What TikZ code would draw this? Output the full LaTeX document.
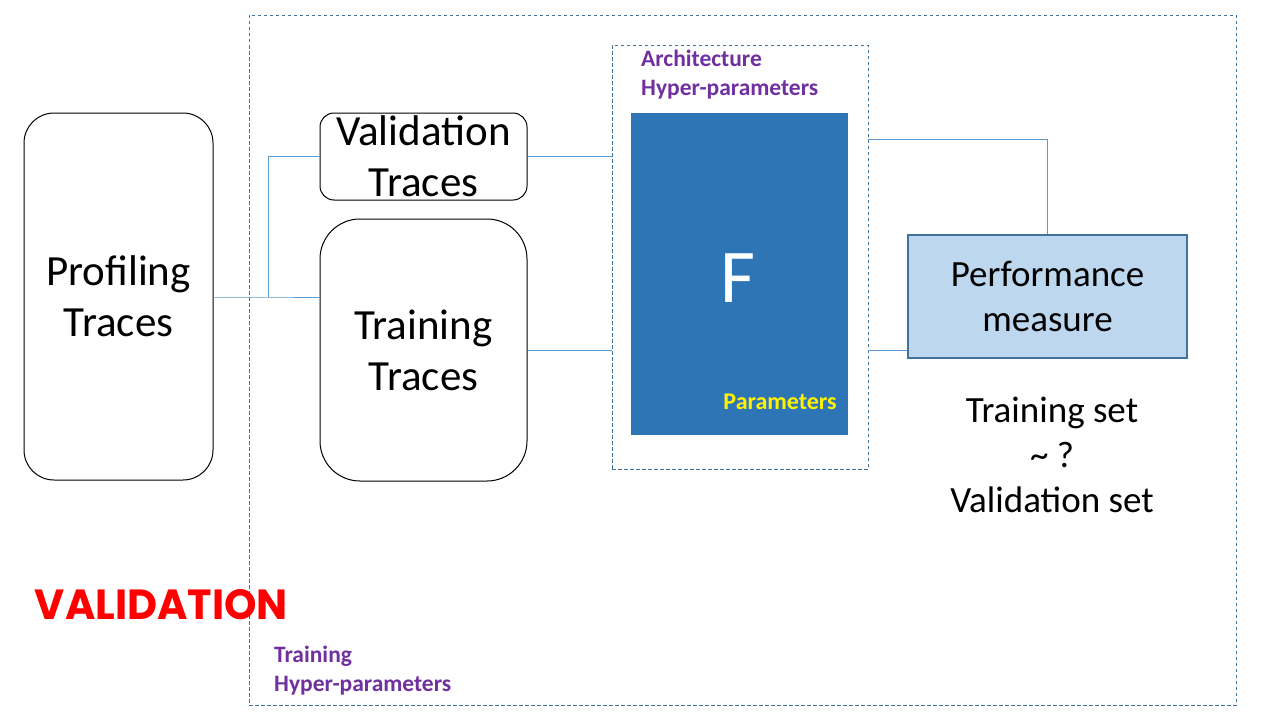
\documentclass[tikz,border=0pt]{standalone}
\usepackage{fontspec}
\setmainfont{Carlito}
\newfontfamily\vfont{Poppins}
\usetikzlibrary{calc}
\definecolor{dashc}{HTML}{41719C}
\definecolor{linec}{HTML}{5B9BD5}
\definecolor{fblue}{HTML}{2E75B6}
\definecolor{pfill}{HTML}{BDD7EE}
\definecolor{purp}{HTML}{7030A0}
\tikzset{
  tracebox/.style={draw=black, line width=1pt, align=center, inner sep=0pt,
    font=\fontsize{43}{51}\selectfont},
  dashbox/.style={draw=dashc, line width=0.9pt, dash pattern=on 3.5pt off 2.5pt, inner sep=0pt},
  conn/.style={draw=linec, line width=1pt},
  purplab/.style={text=purp, font=\fontsize{23.5}{29}\selectfont\bfseries, align=left, inner sep=0pt},
}
\begin{document}
\begin{tikzpicture}[x=1pt,y=-1pt]
\useasboundingbox[fill=white] (0,0) rectangle (1280,720);
% outer dashed frame
\node[dashbox, minimum width=987pt, minimum height=690pt] (outer) at (742.5,360) {};
% trace boxes
\node[tracebox, rounded corners=30pt, minimum width=189pt, minimum height=367pt] (prof) at (118.5,296.5) {Profiling\\Traces};
\node[tracebox, rounded corners=14pt, minimum width=207pt, minimum height=87pt] (val) at (423.5,156.5) {Validation\\Traces};
\node[tracebox, rounded corners=40pt, minimum width=207pt, minimum height=262pt] (train) at (423.5,350) {Training\\Traces};
% inner dashed frame with F
\node[dashbox, minimum width=256pt, minimum height=424pt] (arch) at (740,257) {};
\node[fill=fblue, minimum width=217pt, minimum height=322pt, inner sep=0pt] (F) at (739.5,274) {};
\node[text=white, font=\fontsize{76}{80}\selectfont, inner sep=0pt] (Fl) at (738,278) {F};
\node[purplab, anchor=west] (archlab) at (641,75) {Architecture\\Hyper-parameters};
\node[text=yellow, font=\fontsize{24}{26}\selectfont\bfseries, inner sep=0pt, anchor=east] (plab) at (837,402) {Parameters};
% performance
\node[draw=dashc, line width=1.2pt, fill=pfill, minimum width=279pt, minimum height=123pt, inner sep=0pt,
  align=center, font=\fontsize{37}{45}\selectfont] (perf) at (1047.5,296.5) {Performance\\measure};
\node[align=center, font=\fontsize{37}{45}\selectfont, inner sep=0pt] (sets) at (1052,455) {Training set\\\textasciitilde\ ?\\Validation set};
% labels
\node[purplab, anchor=west] (trainlab) at (274,671) {Training\\Hyper-parameters};
\node[text=red, inner sep=0pt] (vlab) at (161.5,605) {\resizebox{253pt}{30pt}{\vfont\bfseries VALIDATION}};
% connectors
\coordinate (br) at (268,297);
\coordinate (archout1) at (868,139);
\coordinate (archout2) at (868,350);
\draw[conn] (prof.east |- br) -- (br) -- (br -| train.west);
\draw[conn] (br) |- (val.west);
\draw[conn] (val.east) -- (val.east -| arch.west);
\draw[conn] (train.east) -- (train.east -| arch.west);
\draw[conn] (archout1) -| (perf.north);
\draw[conn] (archout2) -- (archout2 -| perf.west);
\end{tikzpicture}
\end{document}
